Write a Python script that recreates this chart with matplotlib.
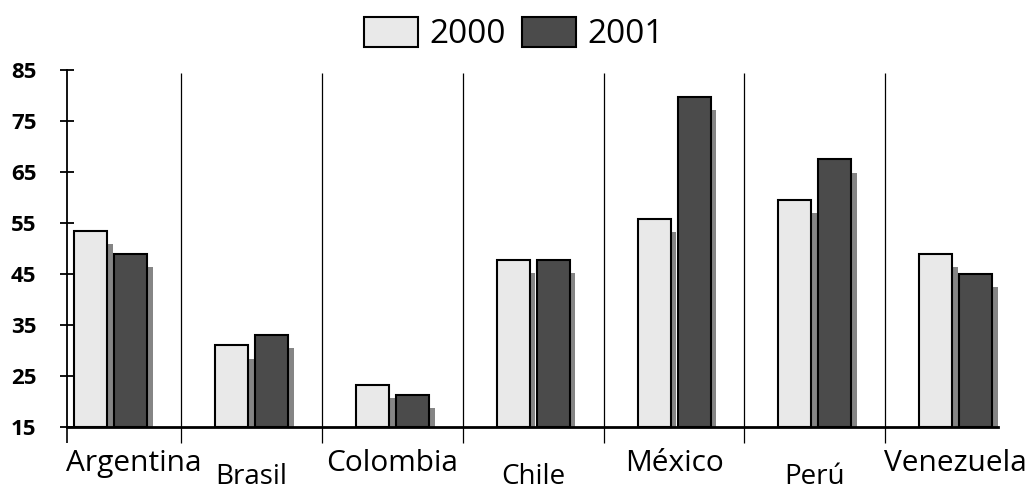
import numpy as np
import matplotlib.pyplot as plt
from matplotlib.patches import Patch

# data
countries = ["Argentina", "Brasil", "Colombia", "Chile", "México", "Perú", "Venezuela"]
years = ["2000", "2001"]
vals_2000 = [53.5, 31, 23.2, 47.8, 55.8, 59.5, 49]
vals_2001 = [49, 33, 21.3, 47.8, 79.7, 67.5, 45]
yticks = [15, 25, 35, 45, 55, 65, 75, 85]

light = "#e9e9e9"
dark = "#4b4b4b"
shadow = "#707070"

plt.rcParams['font.family'] = ['Open Sans', 'DejaVu Sans']

fig = plt.figure(figsize=(10.28, 4.93), dpi=100)
fig.patch.set_facecolor("white")
ax = fig.add_axes([67/1028, 1-427/493, (998-67)/1028, (427-70)/493])

x = np.arange(len(countries))
w = 0.235
off = 0.142

# drop shadows first (offset right and down)
for xs, vals in ((x - off, vals_2000), (x + off, vals_2001)):
    ax.bar(xs + 0.04, np.array(vals) - 15 - 2.6, w, bottom=15,
           color=shadow, edgecolor="none", zorder=1, alpha=0.85)

ax.bar(x - off, np.array(vals_2000) - 15, w, bottom=15, color=light,
       edgecolor="black", linewidth=1.5, zorder=2)
ax.bar(x + off, np.array(vals_2001) - 15, w, bottom=15, color=dark,
       edgecolor="black", linewidth=1.5, zorder=2)

ax.set_xlim(-0.31, 6.30)
ax.set_ylim(15, 85)

# separators between countries, running a bit below the axis
ax.vlines(x[:-1] + 0.5, 11.9, 84.5, color="black", linewidth=0.9,
          clip_on=False, zorder=0)
ax.vlines([-0.31], 11.9, 15, color="black", linewidth=1.2, clip_on=False)

for s in ("top", "right"):
    ax.spines[s].set_visible(False)
ax.spines["left"].set_linewidth(1.3)
ax.spines["bottom"].set_linewidth(2)
ax.spines["bottom"].set_zorder(3)

ax.set_yticks(yticks)
ax.set_yticklabels([str(v) for v in yticks], fontsize=16, fontweight="bold")
ax.tick_params(axis="y", direction="inout", length=10, width=1.3, pad=17)
ax.set_xticks([])

# category labels, staggered
for i, name in enumerate(countries):
    if i == 0:
        ax.text(-0.32, -0.123, name, transform=ax.get_xaxis_transform(),
                ha="left", va="baseline", fontsize=21.5)
    elif i % 2 == 0:
        ax.text(i, -0.123, name, transform=ax.get_xaxis_transform(),
                ha="center", va="baseline", fontsize=21.5)
    else:
        ax.text(i, -0.16, name, transform=ax.get_xaxis_transform(),
                ha="center", va="baseline", fontsize=20)

handles = [Patch(facecolor=light, edgecolor="black", linewidth=1.5),
           Patch(facecolor=dark, edgecolor="black", linewidth=1.5)]
fig.legend(handles, years, loc="center", bbox_to_anchor=(0.5, 0.931), ncol=2,
           frameon=False, fontsize=24, handlelength=1.6, handleheight=1.0,
           handletextpad=0.35, columnspacing=0.5)

fig.savefig("out.png", dpi=100)
